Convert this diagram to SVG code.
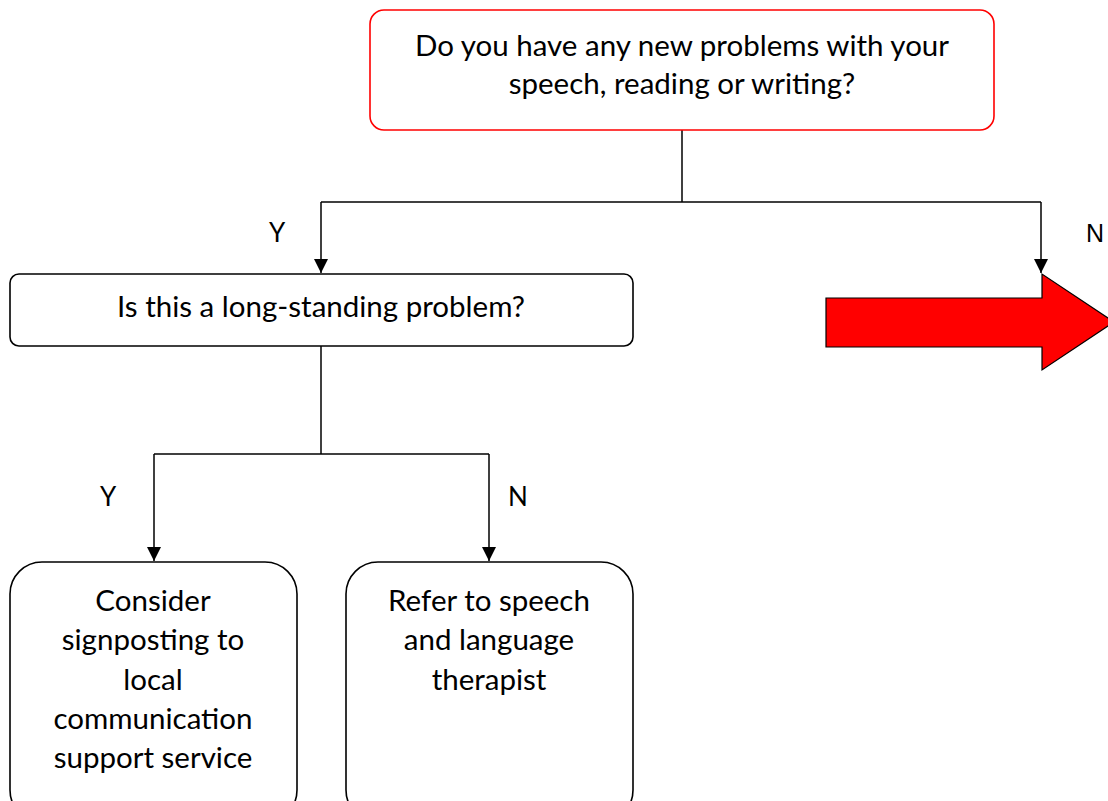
<svg xmlns="http://www.w3.org/2000/svg" width="1108" height="801" viewBox="0 0 1108 801">
  <defs>
    <marker id="arrow" viewBox="0 0 10 10" refX="10" refY="5" markerWidth="14" markerHeight="14" markerUnits="userSpaceOnUse" orient="auto">
      <path d="M0,0 L10,5 L0,10 Z" fill="#000"/>
    </marker>
    <style>
      .box { fill: #fff; stroke: #000; stroke-width: 1.6; }
      .box-red { fill: #fff; stroke: #ff0000; stroke-width: 1.6; }
      .txt { font-family: Lato, "Open Sans", sans-serif; font-size: 29.5px; fill: #000; text-anchor: middle; }
      .lbl { font-family: Lato, "Open Sans", sans-serif; font-size: 26px; fill: #000; text-anchor: middle; }
      .lbl-arial { font-family: "Liberation Sans", Arial, sans-serif; font-size: 25px; fill: #000; text-anchor: middle; }
      .conn { fill: none; stroke: #000; stroke-width: 1.5; }
    </style>
  </defs>
  <rect width="1108" height="801" fill="#fff"/>

  <!-- connectors -->
  <g id="connectors">
    <path class="conn" d="M682,130 V202"/>
    <path class="conn" d="M321,202 H1041"/>
    <path class="conn" d="M321,202 V273" marker-end="url(#arrow)"/>
    <path class="conn" d="M1041,202 V273" marker-end="url(#arrow)"/>
    <path class="conn" d="M321,346 V454"/>
    <path class="conn" d="M154,454 H489"/>
    <path class="conn" d="M154,454 V561" marker-end="url(#arrow)"/>
    <path class="conn" d="M489,454 V561" marker-end="url(#arrow)"/>
    <text class="lbl" x="277" y="242">Y</text>
    <text class="lbl-arial" x="1095" y="242">N</text>
    <text class="lbl" x="108" y="506">Y</text>
    <text class="lbl" x="518" y="506">N</text>
  </g>

  <!-- question: new problems -->
  <g id="q-new-problems">
    <rect class="box-red" x="370" y="10" width="624" height="120" rx="14"/>
    <text class="txt" x="682" y="56">Do you have any new problems with your</text>
    <text class="txt" x="682" y="94">speech, reading or writing?</text>
  </g>

  <!-- question: long-standing -->
  <g id="q-long-standing">
    <rect class="box" x="10" y="274" width="623" height="72" rx="9"/>
    <text class="txt" x="321" y="317">Is this a long-standing problem?</text>
  </g>

  <!-- outcome: signposting -->
  <g id="signposting">
    <rect class="box" x="10" y="562" width="287" height="260" rx="32"/>
    <text class="txt" x="153" y="611">Consider</text>
    <text class="txt" x="153" y="650">signposting to</text>
    <text class="txt" x="153" y="690">local</text>
    <text class="txt" x="153" y="729">communication</text>
    <text class="txt" x="153" y="768">support service</text>
  </g>

  <!-- outcome: referral -->
  <g id="referral">
    <rect class="box" x="346" y="562" width="287" height="260" rx="32"/>
    <text class="txt" x="489" y="611">Refer to speech</text>
    <text class="txt" x="489" y="650">and language</text>
    <text class="txt" x="489" y="690">therapist</text>
  </g>

  <!-- continue arrow -->
  <g id="continue">
    <path d="M826,298 H1042 V274 L1114,322 L1042,370 V347 H826 Z" fill="#ff0000" stroke="#000" stroke-width="1.2"/>
  </g>
</svg>
